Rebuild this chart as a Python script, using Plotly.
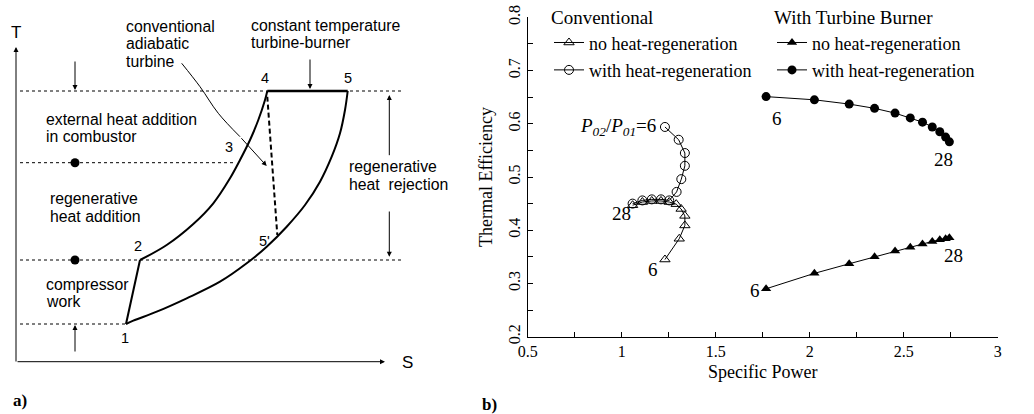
import plotly.graph_objects as go

# ---------------- Panel b data ----------------
conv_power_noregen = [1.230, 1.306, 1.336, 1.336, 1.316, 1.290, 1.253, 1.209, 1.160, 1.110, 1.058]
conv_eff_noregen = [0.345, 0.384, 0.409, 0.427, 0.440, 0.449, 0.453, 0.455, 0.455, 0.453, 0.447]
conv_power_regen = [1.230, 1.303, 1.336, 1.336, 1.317, 1.292, 1.253, 1.209, 1.160, 1.110, 1.058]
conv_eff_regen = [0.594, 0.570, 0.545, 0.521, 0.496, 0.472, 0.456, 0.458, 0.458, 0.456, 0.450]
tb_power = [1.768, 2.025, 2.210, 2.345, 2.454, 2.535, 2.600, 2.652, 2.692, 2.723, 2.743]
tb_eff_noregen = [0.290, 0.319, 0.337, 0.350, 0.361, 0.368, 0.374, 0.379, 0.382, 0.384, 0.386]
tb_eff_regen = [0.651, 0.645, 0.637, 0.629, 0.620, 0.611, 0.603, 0.594, 0.585, 0.575, 0.566]

# pressure-ratio labels (text, x, y)
pr_text = ["<i>P</i><sub><i>02</i></sub>/<i>P</i><sub><i>01</i></sub>=6", "28", "6", "6", "28", "6", "28"]
pr_x = [1.195, 1.00, 1.165, 1.824, 2.711, 1.711, 2.764]
pr_y = [0.593, 0.432, 0.327, 0.609, 0.533, 0.286, 0.352]

# ---------------- Panel a (schematic T-S diagram) ----------------
compress_S = [126, 140]
compress_T = [90, 154]
heat_S = [140, 166.7, 193.3, 213.3, 230, 240, 250, 258.3, 265, 267.3]
heat_T = [154, 169, 190, 210.7, 235.7, 254, 274, 294, 314, 323]
burner_S = [267.3, 347.7]
burner_T = [323, 323]
reject_S = [347.7, 345, 340, 331.7, 320, 305, 286.7, 266.7, 246.7, 220, 186.7, 156.7, 133.3, 126]
reject_T = [323, 304, 280.7, 257.3, 232.3, 209, 187.3, 167.3, 150.7, 132.3, 115.7, 102.3, 93.3, 90]
adiab_S = [267.3, 277.3]
adiab_T = [317.3, 179]
level_T = [323, 251.3, 154, 90]
level_S_end = [403, 233, 403, 126]
dot_S = [75, 75]
dot_T = [251.3, 154]
pointer_S = [181.7, 200, 218.3, 240]
pointer_T = [350.7, 327.3, 300.7, 277.3]

SERIF = "Liberation Serif"
SANS = "Liberation Sans"

fig = go.Figure()

# dashed temperature levels
for T, s_end in zip(level_T, level_S_end):
    fig.add_trace(go.Scatter(x=[20, s_end], y=[T, T], mode="lines",
                             line=dict(color="black", width=1, dash="3px,3px"),
                             showlegend=False, hoverinfo="skip", xaxis="x", yaxis="y"))

fig.add_trace(go.Scatter(x=compress_S, y=compress_T, mode="lines",
                         line=dict(color="black", width=2), showlegend=False, xaxis="x", yaxis="y"))
fig.add_trace(go.Scatter(x=heat_S, y=heat_T, mode="lines", line_shape="spline",
                         line=dict(color="black", width=2), showlegend=False, xaxis="x", yaxis="y"))
fig.add_trace(go.Scatter(x=burner_S, y=burner_T, mode="lines",
                         line=dict(color="black", width=2.5), showlegend=False, xaxis="x", yaxis="y"))
fig.add_trace(go.Scatter(x=reject_S, y=reject_T, mode="lines", line_shape="spline",
                         line=dict(color="black", width=2), showlegend=False, xaxis="x", yaxis="y"))
fig.add_trace(go.Scatter(x=adiab_S, y=adiab_T, mode="lines",
                         line=dict(color="black", width=2, dash="5px,3px"), showlegend=False, xaxis="x", yaxis="y"))
fig.add_trace(go.Scatter(x=dot_S, y=dot_T, mode="markers",
                         marker=dict(color="black", size=9), showlegend=False, xaxis="x", yaxis="y"))
fig.add_trace(go.Scatter(x=pointer_S, y=pointer_T, mode="lines", line_shape="spline",
                         line=dict(color="black", width=1), showlegend=False, xaxis="x", yaxis="y"))

# ---------------- Panel b traces ----------------
fig.add_trace(go.Scatter(x=conv_power_noregen, y=conv_eff_noregen, mode="lines+markers",
                         name="no heat-regeneration", legend="legend", legendgroup="c1",
                         line=dict(color="black", width=1),
                         marker=dict(symbol="triangle-up-open", size=9, color="black", line=dict(width=1)),
                         xaxis="x2", yaxis="y2"))
fig.add_trace(go.Scatter(x=conv_power_regen, y=conv_eff_regen, mode="lines+markers",
                         name="with heat-regeneration", legend="legend", legendgroup="c2",
                         line=dict(color="black", width=1),
                         marker=dict(symbol="circle-open", size=9, color="black", line=dict(width=1)),
                         xaxis="x2", yaxis="y2"))
fig.add_trace(go.Scatter(x=tb_power, y=tb_eff_noregen, mode="lines+markers",
                         name="no heat-regeneration", legend="legend2", legendgroup="t1",
                         line=dict(color="black", width=1),
                         marker=dict(symbol="triangle-up", size=9, color="black"),
                         xaxis="x2", yaxis="y2"))
fig.add_trace(go.Scatter(x=tb_power, y=tb_eff_regen, mode="lines+markers",
                         name="with heat-regeneration", legend="legend2", legendgroup="t2",
                         line=dict(color="black", width=1),
                         marker=dict(symbol="circle", size=9, color="black"),
                         xaxis="x2", yaxis="y2"))

ann = []
# arrows (tip x,y ; tail ax,ay)
arrows = [
    (75, 324, 75, 354), (75, 89, 75, 61), (310, 325, 310, 356),
    (389.3, 319, 389.3, 257.3), (389.3, 157.3, 389.3, 204),
    (16, 367, 16, 51), (385, 52.3, 16, 52.3), (266.7, 248, 240, 277.3),
]
for x, y, ax, ay in arrows:
    ann.append(dict(x=x, y=y, ax=ax, ay=ay, xref="x", yref="y", axref="x", ayref="y",
                    showarrow=True, arrowhead=2, arrowsize=1, arrowwidth=1,
                    arrowcolor="black", text="", standoff=0, startstandoff=0))

texts_a = [
    ("conventional", 124, 388), ("adiabatic", 124, 370.7), ("turbine", 124, 352.3),
    ("constant temperature", 249.3, 389), ("turbine-burner", 249.3, 371.3),
    ("external heat addition", 44.3, 295), ("in combustor", 44.3, 277.3),
    ("regenerative", 47.7, 215.7), ("heat addition", 47.7, 198),
    ("compressor", 44.3, 130), ("work", 44.3, 112.3),
    ("regenerative", 346.7, 247.3), ("heat  rejection", 346.7, 230),
]
for t, x, y in texts_a:
    ann.append(dict(x=x, y=y, xref="x", yref="y", text=t, showarrow=False,
                    xanchor="left", yanchor="middle", font=dict(family=SANS, size=15.8, color="black")))

nums = [("1", 125, 76), ("2", 137.7, 168), ("3", 229, 267.3), ("4", 265, 336),
        ("5", 348, 336), ("5'", 264.5, 173.3)]
for t, x, y in nums:
    ann.append(dict(x=x, y=y, xref="x", yref="y", text=t, showarrow=False,
                    xanchor="center", yanchor="middle", font=dict(family=SANS, size=14.5, color="black")))
ann.append(dict(x=15.7, y=382, xref="x", yref="y", text="T", showarrow=False,
                font=dict(family=SANS, size=17, color="black")))
ann.append(dict(x=407, y=52, xref="x", yref="y", text="S", showarrow=False,
                font=dict(family=SANS, size=17, color="black")))
ann.append(dict(x=20, y=13.5, xref="x", yref="y", text="<b>a)</b>", showarrow=False,
                xanchor="center", yanchor="middle",
                font=dict(family=SERIF, size=17, color="black")))
ann.append(dict(x=489 / 1034, y=1 - 404 / 414, xref="paper", yref="paper", text="<b>b)</b>",
                showarrow=False, xanchor="center", yanchor="middle",
                font=dict(family=SERIF, size=17, color="black")))

for i, (t, x, y) in enumerate(zip(pr_text, pr_x, pr_y)):
    ann.append(dict(x=x, y=y, xref="x2", yref="y2", text=t, showarrow=False,
                    xanchor="right" if i == 0 else "center", yanchor="middle",
                    font=dict(family=SERIF, size=19, color="black")))

x0 = 527.7 / 1034
x1 = 997.7 / 1034
yb = 1 - 336.7 / 414
yt = 1 - 17.3 / 414

fig.update_layout(
    width=1034, height=414,
    margin=dict(l=0, r=0, t=0, b=0, autoexpand=False),
    paper_bgcolor="white", plot_bgcolor="white",
    font=dict(family=SERIF, size=16, color="black"),
    xaxis=dict(domain=[0, 420 / 1034], range=[0, 420], visible=False, fixedrange=True),
    yaxis=dict(domain=[0, 1], range=[0, 414], visible=False, fixedrange=True),
    xaxis2=dict(domain=[x0, x1], range=[0.5, 3], anchor="y2", automargin=False,
                showline=True, linecolor="black", linewidth=1.2, mirror=False,
                ticks="inside", ticklen=5, tickwidth=1, tickcolor="black",
                tick0=0.5, dtick=0.5,
                minor=dict(dtick=0.25, ticks="inside", ticklen=5, tickcolor="black", tickwidth=1),
                showgrid=False, zeroline=False,
                tickfont=dict(family=SERIF, size=16),
                title=dict(text="Specific Power", font=dict(family=SERIF, size=18), standoff=6)),
    yaxis2=dict(domain=[yb, yt], range=[0.2, 0.8], anchor="x2", automargin=False,
                showline=True, linecolor="black", linewidth=1.2, mirror=False,
                ticks="inside", ticklen=5, tickwidth=1, tickcolor="black",
                tick0=0.2, dtick=0.1, tickangle=-90,
                minor=dict(dtick=0.05, ticks="inside", ticklen=5, tickcolor="black", tickwidth=1),
                showgrid=False, zeroline=False,
                tickfont=dict(family=SERIF, size=16),
                title=dict(text="Thermal Efficiency", font=dict(family=SERIF, size=18), standoff=8)),
    legend=dict(x=549 / 1034, y=1.001, xanchor="left", yanchor="top",
                title=dict(text="Conventional", font=dict(family=SERIF, size=19)),
                font=dict(family=SERIF, size=18), bgcolor="rgba(0,0,0,0)",
                itemwidth=30, traceorder="grouped", tracegroupgap=1),
    legend2=dict(x=772 / 1034, y=1.001, xanchor="left", yanchor="top",
                 title=dict(text="With Turbine Burner", font=dict(family=SERIF, size=19)),
                 font=dict(family=SERIF, size=18), bgcolor="rgba(0,0,0,0)",
                 itemwidth=30, traceorder="grouped", tracegroupgap=1),
    annotations=ann,
)

fig.write_html("out.html")
